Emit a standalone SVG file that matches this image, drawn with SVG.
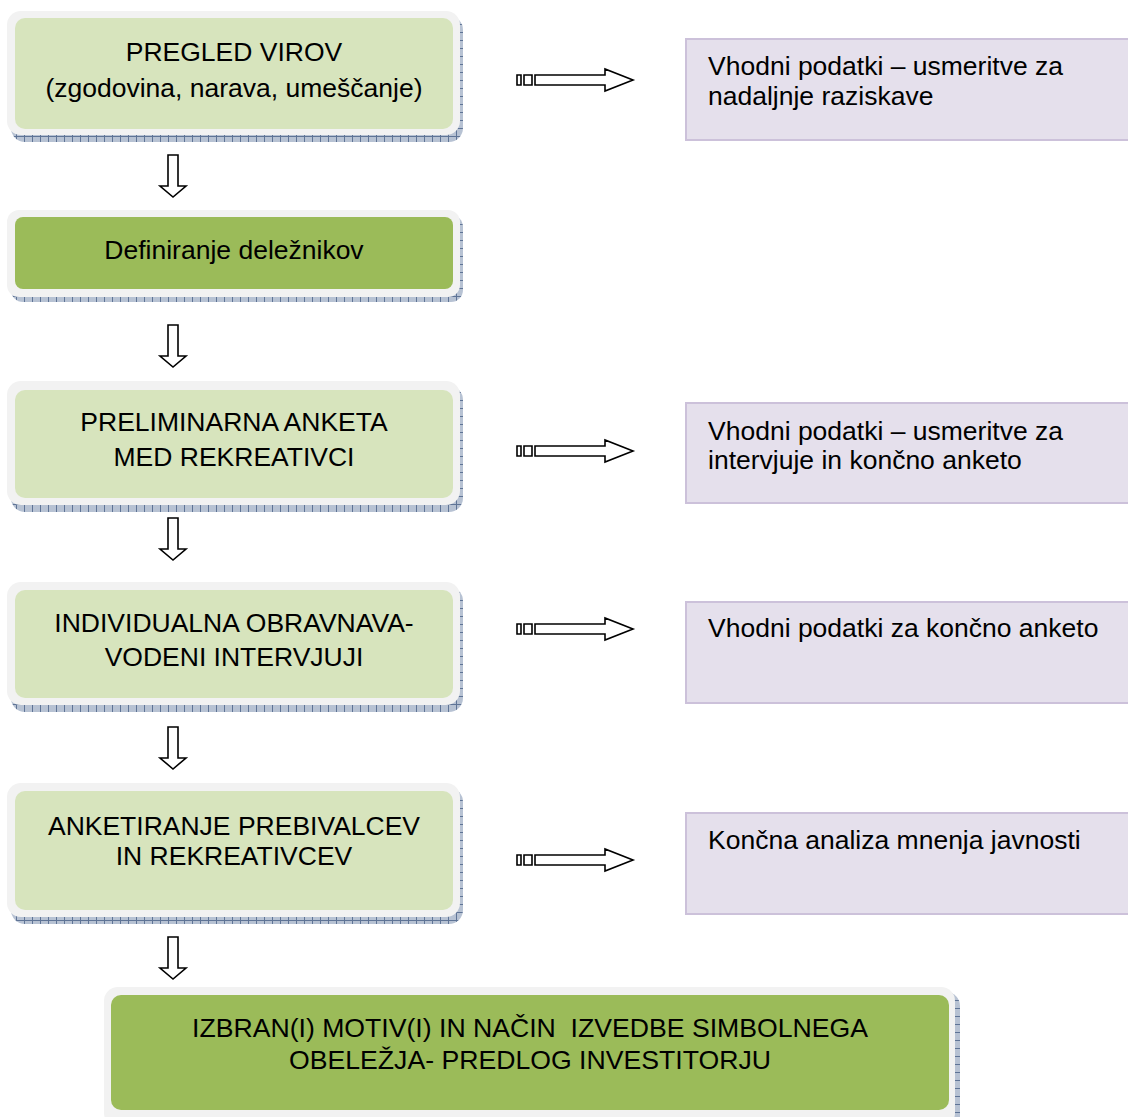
<svg xmlns="http://www.w3.org/2000/svg" width="1128" height="1117" viewBox="0 0 1128 1117">
<style>
.t{font-family:"Liberation Sans",Arial,sans-serif;font-size:26.5px;fill:#000}
.c{text-anchor:middle}
.frame{fill:#f2f2f2}
.sh{fill:url(#hatch)}
.lg{fill:#d7e4bd}
.dg{fill:#9bbb59}
.rb{fill:#e5e0ec;stroke:#ccc1da;stroke-width:2}
.ar{fill:#fff;stroke:#000;stroke-width:1.6;stroke-linejoin:miter}
</style>
<defs>
<pattern id="hatch" width="8" height="8" patternUnits="userSpaceOnUse">
<rect width="8" height="8" fill="#b7c2d3"/>
<path d="M0 0.5H8M0.5 0V8" stroke="#5f7496" stroke-width="1"/>
</pattern>
<path id="down" d="M-5 0H5V31H13L0 42L-13 31H-5Z"/>
<path id="right" d="M0 -5H4V5H0Z M7 -5H15V5H7Z M18 -5H88V-11L116 0L88 11V5H18Z"/>
</defs>
<rect width="1128" height="1117" fill="#fff"/>

<g id="node1">
<rect class="sh" x="11" y="16" width="452" height="126" rx="14"/>
<rect class="frame" x="7" y="11" width="453" height="124" rx="14"/>
<rect class="lg" x="15" y="18" width="438" height="111" rx="10"/>
<text class="t c" x="234" y="61">PREGLED VIROV</text>
<text class="t c" x="234" y="97">(zgodovina, narava, umeščanje)</text>
</g>

<g id="node2">
<rect class="sh" x="11" y="215" width="452" height="87" rx="12"/>
<rect class="frame" x="7" y="210" width="453" height="87" rx="12"/>
<rect class="dg" x="15" y="217" width="438" height="72" rx="8"/>
<text class="t c" x="234" y="259">Definiranje deležnikov</text>
</g>

<g id="node3">
<rect class="sh" x="11" y="386" width="452" height="126" rx="14"/>
<rect class="frame" x="7" y="381" width="453" height="124" rx="14"/>
<rect class="lg" x="15" y="390" width="438" height="108" rx="10"/>
<text class="t c" x="234" y="431">PRELIMINARNA ANKETA</text>
<text class="t c" x="234" y="466">MED REKREATIVCI</text>
</g>

<g id="node4">
<rect class="sh" x="11" y="587" width="452" height="125" rx="14"/>
<rect class="frame" x="7" y="582" width="453" height="123" rx="14"/>
<rect class="lg" x="15" y="590" width="438" height="108" rx="10"/>
<text class="t c" x="234" y="632">INDIVIDUALNA OBRAVNAVA-</text>
<text class="t c" x="234" y="666">VODENI INTERVJUJI</text>
</g>

<g id="node5">
<rect class="sh" x="11" y="788" width="452" height="136" rx="14"/>
<rect class="frame" x="7" y="783" width="453" height="134" rx="14"/>
<rect class="lg" x="15" y="791" width="438" height="119" rx="10"/>
<text class="t c" x="234" y="835">ANKETIRANJE PREBIVALCEV</text>
<text class="t c" x="234" y="865">IN REKREATIVCEV</text>
</g>

<g id="node6">
<rect class="sh" x="108" y="992" width="852" height="140" rx="14"/>
<rect class="frame" x="104" y="987" width="851" height="140" rx="14"/>
<rect class="dg" x="111" y="995" width="838" height="115" rx="10"/>
<text class="t c" x="530" y="1037" textLength="676" lengthAdjust="spacingAndGlyphs" xml:space="preserve">IZBRAN(I) MOTIV(I) IN NAČIN  IZVEDBE SIMBOLNEGA</text>
<text class="t c" x="530" y="1069" textLength="482" lengthAdjust="spacingAndGlyphs">OBELEŽJA- PREDLOG INVESTITORJU</text>
</g>

<g id="out1">
<rect class="rb" x="686" y="39" width="450" height="101"/>
<text class="t" x="708" y="75">Vhodni podatki – usmeritve za</text>
<text class="t" x="708" y="105">nadaljnje raziskave</text>
</g>
<g id="out2">
<rect class="rb" x="686" y="403" width="450" height="100"/>
<text class="t" x="708" y="440">Vhodni podatki – usmeritve za</text>
<text class="t" x="708" y="469">intervjuje in končno anketo</text>
</g>
<g id="out3">
<rect class="rb" x="686" y="602" width="450" height="101"/>
<text class="t" x="708" y="637">Vhodni podatki za končno anketo</text>
</g>
<g id="out4">
<rect class="rb" x="686" y="813" width="450" height="101"/>
<text class="t" x="708" y="849">Končna analiza mnenja javnosti</text>
</g>

<g id="connectors">
<use href="#down" class="ar" x="173" y="155"/>
<use href="#down" class="ar" x="173" y="325"/>
<use href="#down" class="ar" x="173" y="518"/>
<use href="#down" class="ar" x="173" y="727"/>
<use href="#down" class="ar" x="173" y="937"/>
<use href="#right" class="ar" x="517" y="80"/>
<use href="#right" class="ar" x="517" y="451"/>
<use href="#right" class="ar" x="517" y="629"/>
<use href="#right" class="ar" x="517" y="860"/>
</g>
</svg>
